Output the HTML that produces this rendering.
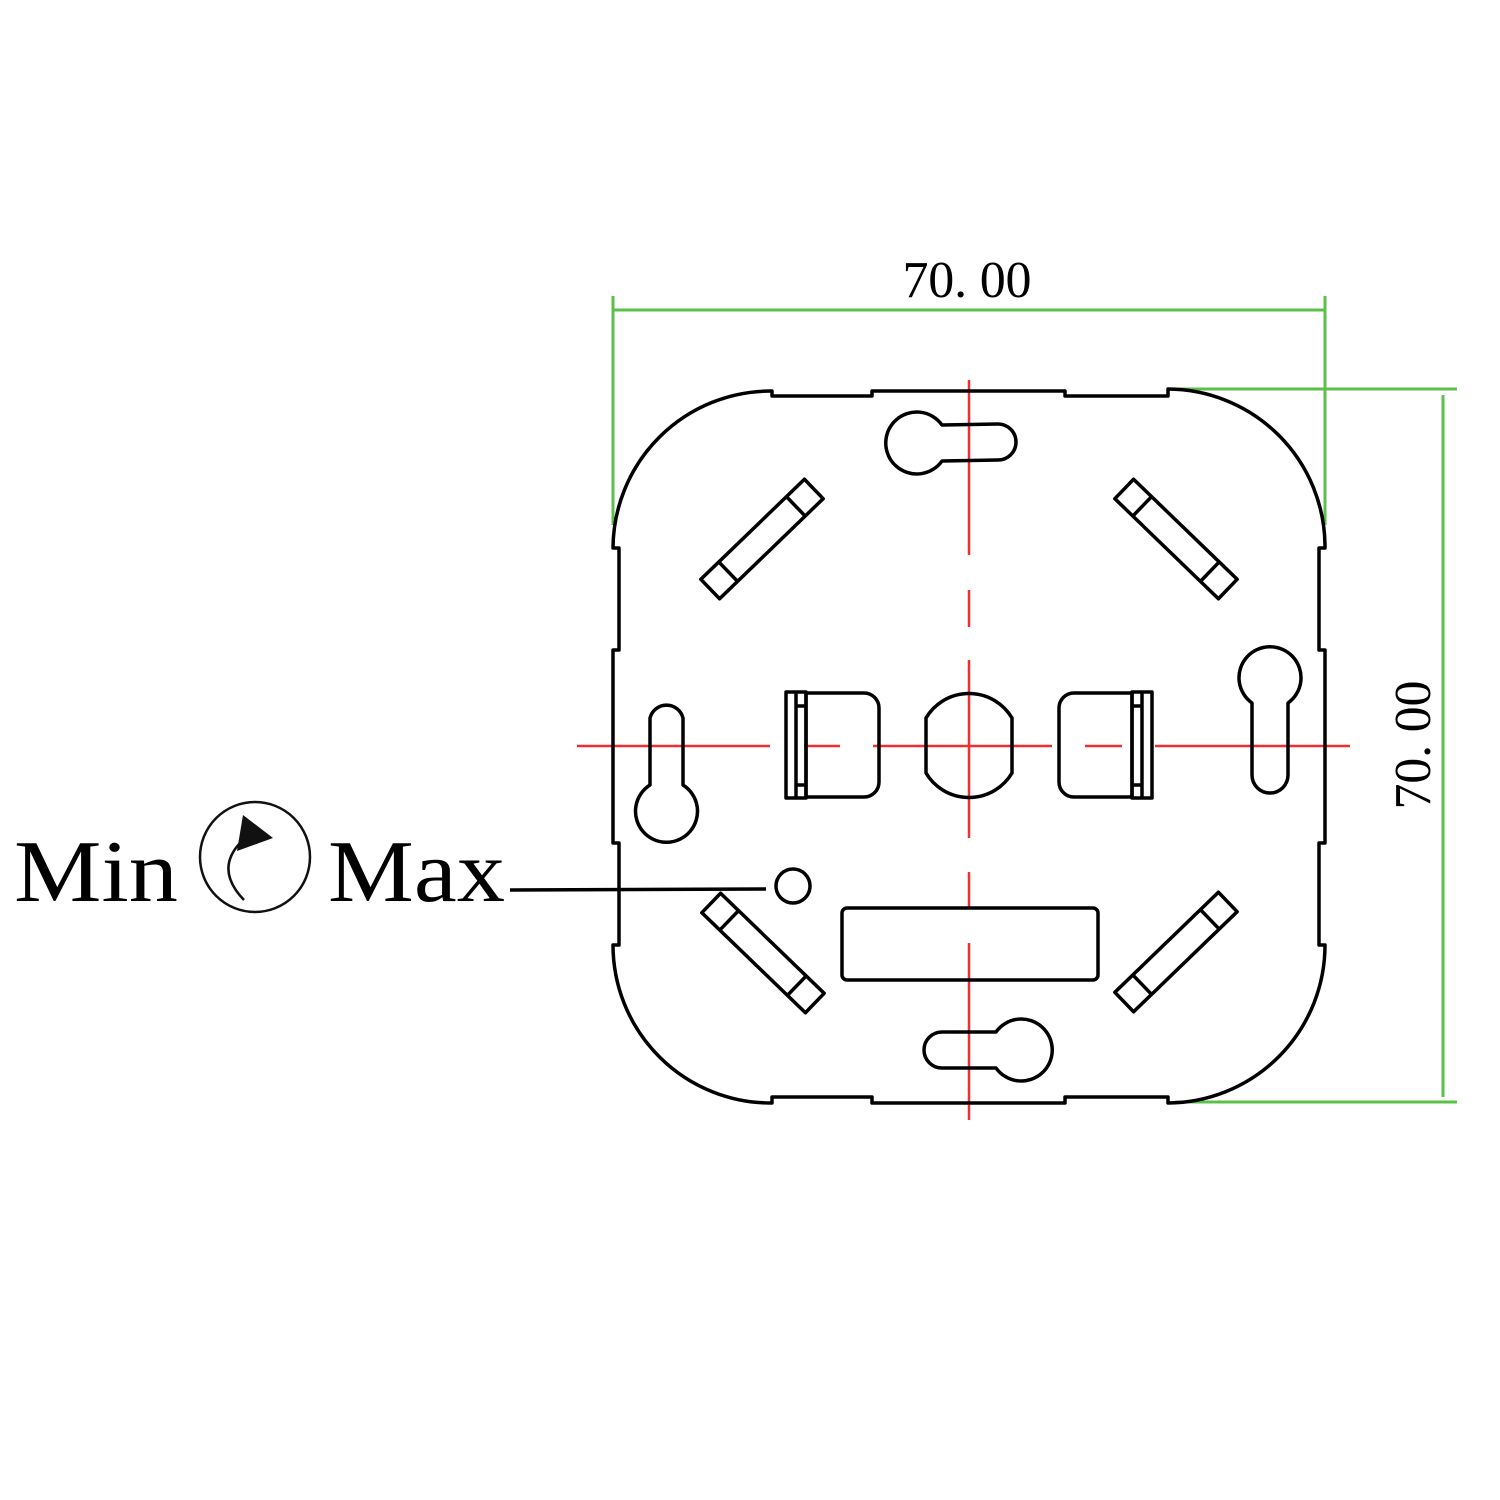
<!DOCTYPE html>
<html><head><meta charset="utf-8"><style>html,body{margin:0;padding:0;background:#fff}svg{display:block}</style></head>
<body>
<svg width="1500" height="1500" viewBox="0 0 1500 1500" xmlns="http://www.w3.org/2000/svg">
<rect width="1500" height="1500" fill="#fff"/>
<g stroke="#5cbf4a" stroke-width="3" fill="none">
<line x1="613" y1="296" x2="613" y2="525"/>
<line x1="1325" y1="296" x2="1325" y2="525"/>
<line x1="613" y1="310" x2="1325" y2="310"/>
<line x1="1175" y1="389" x2="1457" y2="389"/>
<line x1="1175" y1="1102" x2="1457" y2="1102"/>
<line x1="1443" y1="395" x2="1443" y2="1097"/>
</g>
<text x="967" y="297" font-family="Liberation Serif, serif" font-size="52" text-anchor="middle" textLength="129">70. 00</text>
<text transform="translate(1430,745) rotate(-90)" font-family="Liberation Serif, serif" font-size="52" text-anchor="middle" textLength="129">70. 00</text>
<g stroke="#f03030" stroke-width="2.5" fill="none">
<line x1="969" y1="380" x2="969" y2="555"/>
<line x1="969" y1="590" x2="969" y2="627"/>
<line x1="969" y1="660" x2="969" y2="838"/>
<line x1="969" y1="872" x2="969" y2="908"/>
<line x1="969" y1="943" x2="969" y2="1120"/>
<line x1="577" y1="746" x2="770" y2="746"/>
<line x1="804" y1="746" x2="840" y2="746"/>
<line x1="873" y1="746" x2="1052" y2="746"/>
<line x1="1085" y1="746" x2="1122" y2="746"/>
<line x1="1155" y1="746" x2="1350" y2="746"/>
</g>
<g stroke="#000" stroke-width="3.5" fill="none" stroke-linejoin="round">
<path d="M772 391 L772 396 L872 396 L872 391 L1065 391 L1065 396 L1168 396 L1168 389 A158 158 0 0 1 1325 545 L1325 548 L1319 548 L1319 650 L1325 650 L1325 843 L1319 843 L1319 945 L1325 945 A158 158 0 0 1 1168 1103 L1168 1097 L1065 1097 L1065 1103 L872 1103 L872 1097 L772 1097 L772 1103 A158 158 0 0 1 613 945 L619 945 L619 843 L613 843 L613 650 L619 650 L619 548 L613 548 A158 158 0 0 1 770 391 Z"/>
<path d="M942 425 A31 31 0 1 0 942 461 L998 460 A18 18 0 0 0 998 424 Z"/>
<path d="M996 1032 A31 31 0 1 1 996 1068 L942 1068 A18 18 0 0 1 942 1032 Z"/>
<path d="M650 785 A31 31 0 1 0 683 785 L683 718 A17 17 0 0 0 650 718 Z"/>
<path d="M1252 703 A31 31 0 1 1 1288 703 L1288 775 A18 18 0 0 1 1252 775 Z"/>
<g transform="translate(762,539) rotate(-44)"><rect x="-72" y="-13.5" width="144" height="27"/><line x1="-47" y1="-13.5" x2="-47" y2="13.5"/><line x1="47" y1="-13.5" x2="47" y2="13.5"/></g>
<g transform="translate(1176,539) rotate(44)"><rect x="-72" y="-13.5" width="144" height="27"/><line x1="-47" y1="-13.5" x2="-47" y2="13.5"/><line x1="47" y1="-13.5" x2="47" y2="13.5"/></g>
<g transform="translate(763,953) rotate(44)"><rect x="-72" y="-13.5" width="144" height="27"/><line x1="-47" y1="-13.5" x2="-47" y2="13.5"/><line x1="47" y1="-13.5" x2="47" y2="13.5"/></g>
<g transform="translate(1176,952) rotate(-44)"><rect x="-72" y="-13.5" width="144" height="27"/><line x1="-47" y1="-13.5" x2="-47" y2="13.5"/><line x1="47" y1="-13.5" x2="47" y2="13.5"/></g>
<path d="M806 693 L864 693 A15 15 0 0 1 879 708 L879 782 A15 15 0 0 1 864 797 L806 797 Z"/>
<rect x="786" y="692" width="20" height="106"/>
<line x1="796" y1="692" x2="796" y2="798"/><line x1="796" y1="706" x2="806" y2="706"/><line x1="796" y1="785" x2="806" y2="785"/>
<path d="M1132 693 L1074 693 A15 15 0 0 0 1059 708 L1059 782 A15 15 0 0 0 1074 797 L1132 797 Z"/>
<rect x="1132" y="692" width="20" height="106"/>
<line x1="1142" y1="692" x2="1142" y2="798"/><line x1="1132" y1="706" x2="1142" y2="706"/><line x1="1132" y1="785" x2="1142" y2="785"/>
<path d="M926 718 A50 50 0 0 1 1012 718 L1012 773 A50 50 0 0 1 926 773 Z"/>
<rect x="842" y="908" width="256" height="72" rx="5"/>
<circle cx="793" cy="886" r="17"/>
<line x1="510" y1="890" x2="766" y2="889"/>
</g>
<text x="14" y="901" font-family="Liberation Serif, serif" font-size="88" textLength="164" lengthAdjust="spacingAndGlyphs">Min</text>
<text x="328" y="901" font-family="Liberation Serif, serif" font-size="88" textLength="177" lengthAdjust="spacingAndGlyphs">Max</text>
<circle cx="255" cy="857" r="55" fill="none" stroke="#111" stroke-width="2.5"/>
<path d="M244 900 Q215 870 240 843" fill="none" stroke="#111" stroke-width="2.5"/>
<polygon points="243,815 273,838 237,851" fill="#111"/>
</svg>
</body></html>
